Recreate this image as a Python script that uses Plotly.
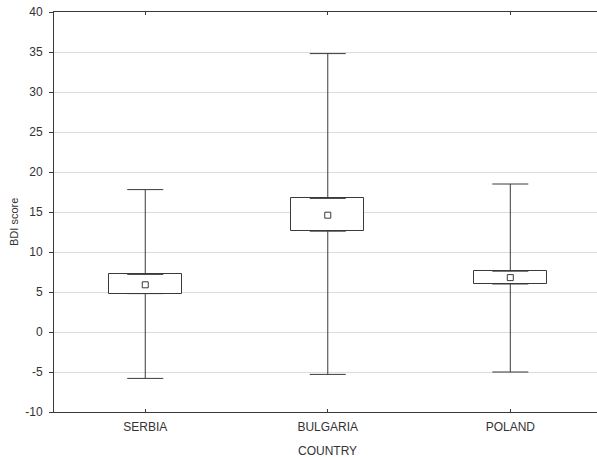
import plotly.graph_objects as go

countries = ["SERBIA", "BULGARIA", "POLAND"]
means = [5.9, 14.6, 6.8]
box_low = [4.8, 12.6, 6.0]
box_high = [7.2, 16.7, 7.6]
whisker_low = [-5.8, -5.3, -5.0]
whisker_high = [17.8, 34.8, 18.5]
y_ticks = [-10, -5, 0, 5, 10, 15, 20, 25, 30, 35, 40]
y_ticktext = ["-10", "-5", "0", "5", "10", "15", "20", "25", "30", "35", "40"]

line_col = "#3a3a3a"
xs = list(range(len(countries)))

fig = go.Figure()

# boxes
fig.add_trace(go.Bar(
    x=xs, y=[h - l for h, l in zip(box_high, box_low)], base=box_low,
    width=0.4, marker=dict(color="white", line=dict(color=line_col, width=1)),
    hoverinfo="skip", showlegend=False,
))

# upper whiskers
fig.add_trace(go.Scatter(
    x=xs, y=box_high, mode="markers", marker=dict(size=1, color="rgba(0,0,0,0)"),
    error_y=dict(type="data", symmetric=False,
                 array=[w - b for w, b in zip(whisker_high, box_high)],
                 arrayminus=[0] * 3, color=line_col, thickness=1, width=18),
    showlegend=False, hoverinfo="skip",
))
# lower whiskers
fig.add_trace(go.Scatter(
    x=xs, y=box_low, mode="markers", marker=dict(size=1, color="rgba(0,0,0,0)"),
    error_y=dict(type="data", symmetric=False,
                 array=[0] * 3,
                 arrayminus=[b - w for w, b in zip(whisker_low, box_low)],
                 color=line_col, thickness=1, width=18),
    showlegend=False, hoverinfo="skip",
))
# means
fig.add_trace(go.Scatter(
    x=xs, y=means, mode="markers",
    marker=dict(symbol="square-open", size=6, color=line_col, line=dict(width=1)),
    showlegend=False,
))

font_family = "Liberation Sans, Arial, sans-serif"
fig.update_layout(
    width=597, height=457,
    margin=dict(l=54, r=0, t=12, b=45, autoexpand=False),
    paper_bgcolor="white", plot_bgcolor="white",
    font=dict(family=font_family, color="#333333", size=12),
    bargap=0,
    xaxis=dict(
        tickmode="array", tickvals=xs, ticktext=countries,
        range=[-0.5, 2.475], showgrid=False, zeroline=False, automargin=False,
        showline=True, linecolor=line_col, linewidth=1, mirror="allticks",
        ticks="inside", ticklen=3, tickcolor=line_col,
        ticklabelstandoff=4, ticklabeloverflow="allow",
        tickfont=dict(size=12),
    ),
    yaxis=dict(
        range=[-10, 40], tickmode="array", tickvals=y_ticks, ticktext=y_ticktext,
        showgrid=True, gridcolor="#dcdcdc", gridwidth=1, zeroline=False, automargin=False,
        showline=True, linecolor=line_col, linewidth=1, mirror=False,
        ticks="outside", ticklen=4, tickcolor=line_col,
        ticklabelstandoff=4, ticklabeloverflow="allow",
        tickfont=dict(size=12),
    ),
    annotations=[
        dict(text="BDI score", xref="paper", yref="paper", x=-0.0737, y=0.475,
             xanchor="center", yanchor="middle", textangle=-90, showarrow=False,
             font=dict(size=11, color="#333333")),
        dict(text="COUNTRY", xref="paper", yref="paper", x=0.5028, y=-0.0975,
             xanchor="center", yanchor="middle", showarrow=False,
             font=dict(size=12, color="#333333")),
    ],
)

fig.write_html("out.html", config={"displayModeBar": False},
               post_script="document.body.style.margin='0';")
